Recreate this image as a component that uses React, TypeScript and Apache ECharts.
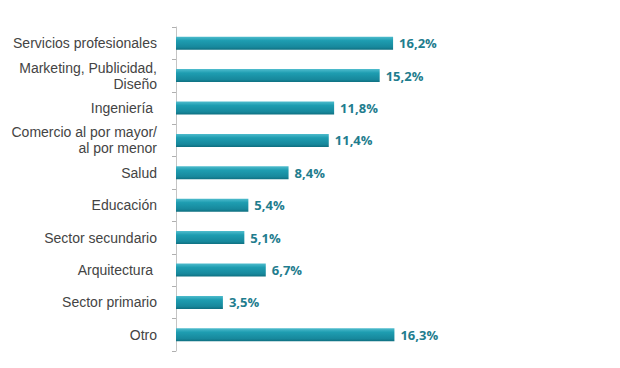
import React, { useEffect, useRef } from "react";
import * as echarts from "echarts";

const categories = [
  "Servicios profesionales",
  "Marketing, Publicidad,\nDiseño",
  "Ingeniería ",
  "Comercio al por mayor/\nal por menor",
  "Salud",
  "Educación",
  "Sector secundario",
  "Arquitectura ",
  "Sector primario",
  "Otro",
];
const values = [16.2, 15.2, 11.8, 11.4, 8.4, 5.4, 5.1, 6.7, 3.5, 16.3];

export default function App() {
  const ref = useRef<HTMLDivElement>(null);
  useEffect(() => {
    if (!ref.current) return;
    const chart = echarts.init(ref.current, null, { renderer: "svg" });
    chart.setOption({
      animation: false,
      backgroundColor: "#ffffff",
      grid: { left: 176, top: 27, width: 268, bottom: 17 },
      xAxis: {
        type: "value",
        min: 0,
        max: 20,
        show: false,
      },
      yAxis: {
        type: "category",
        data: categories,
        inverse: true,
        axisLine: { show: true, lineStyle: { color: "#c4c4c4", width: 1 } },
        axisTick: { show: true, length: 4, lineStyle: { color: "#b0b0b0" } },
        axisLabel: {
          margin: 19,
          color: "#444444",
          fontFamily: "Liberation Sans, Arial, sans-serif",
          fontSize: 14,
          lineHeight: 16,
          align: "right",
        },
        splitLine: { show: false },
      },
      series: [
        {
          type: "bar",
          data: values,
          barWidth: 13,
          itemStyle: {
            color: new echarts.graphic.LinearGradient(0, 0, 0, 1, [
              { offset: 0, color: "#4fbccd" },
              { offset: 0.3, color: "#1e9db1" },
              { offset: 0.8, color: "#17889c" },
              { offset: 1, color: "#0f6f80" },
            ]),
          },
          label: {
            show: true,
            position: "right",
            distance: 6,
            color: "#1f7d8e",
            fontFamily: "Open Sans, sans-serif",
            fontWeight: "bold",
            fontSize: 13,
            formatter: (p: any) => p.value.toFixed(1).replace(".", ",") + "%",
          },
        },
      ],
    });
    return () => chart.dispose();
  }, []);
  return (
    <div
      ref={ref}
      style={{ position: "fixed", left: 0, top: 0, width: 620, height: 368 }}
    />
  );
}
